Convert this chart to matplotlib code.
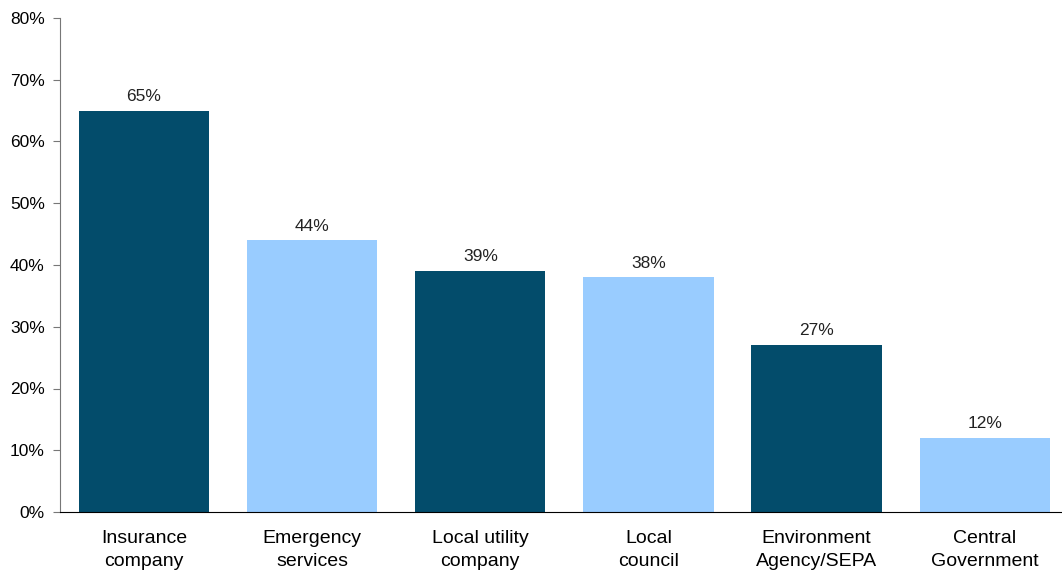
import matplotlib
matplotlib.use('Agg')
import matplotlib.pyplot as plt
import numpy as np

plt.rcParams.update({
    'font.family': ['Liberation Sans', 'DejaVu Sans'],
    'font.size': 12,
})

categories = ['Insurance\ncompany', 'Emergency\nservices', 'Local utility\ncompany',
              'Local\ncouncil', 'Environment\nAgency/SEPA', 'Central\nGovernment']
values = [65, 44, 39, 38, 27, 12]
colors = ['#034C6B', '#99CCFF', '#034C6B', '#99CCFF', '#034C6B', '#99CCFF']

fig = plt.figure(figsize=(10.62, 5.74), dpi=100)
ax = fig.add_axes([60/1062, 1-512/574, 1-60/1062, (512-18)/574])
x = np.arange(len(categories))
ax.bar(x, values, width=0.775, color=colors)
for xi, v in zip(x, values):
    ax.text(xi, v + 1.1, f'{v}%', ha='center', va='bottom', fontsize=12.5, color='#222222')

ax.set_xlim(-0.5, 5.46)
ax.set_ylim(0, 80)
ax.set_yticks(range(0, 81, 10))
ax.set_yticklabels([f'{t}%' for t in range(0, 81, 10)], fontsize=12.5)
ax.set_xticks(x)
ax.set_xticklabels(categories, fontsize=14, linespacing=1.45)
ax.tick_params(axis='x', length=0, pad=13)
ax.tick_params(axis='y', length=5, color='#777777', direction='out', pad=6)
for s in ['top', 'right']:
    ax.spines[s].set_visible(False)
ax.spines['left'].set_color('#777777')
ax.spines['bottom'].set_color('black')
ax.spines['bottom'].set_zorder(5)

fig.savefig('out.png', dpi=100)
